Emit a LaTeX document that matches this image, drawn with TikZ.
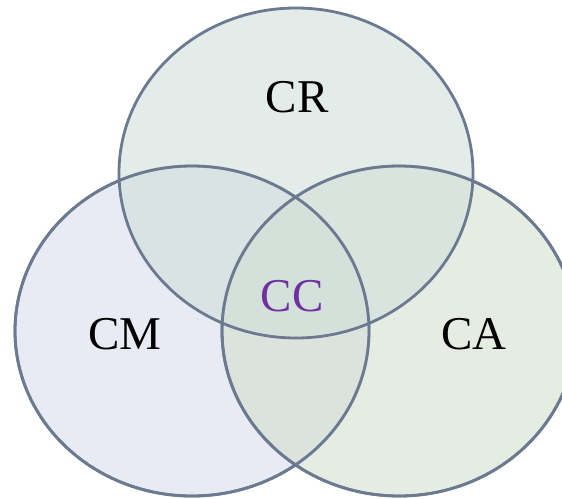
\documentclass[tikz,border=0pt]{standalone}
\usepackage{fontspec}
\setmainfont{Liberation Serif}
\definecolor{edge}{HTML}{6B7A90}
\definecolor{fcr}{RGB}{208,223,218}
\definecolor{fcm}{RGB}{217,222,235}
\definecolor{fca}{RGB}{212,223,207}
\definecolor{ccpurple}{HTML}{7030A0}
\tikzset{
  setshape/.style={draw=edge, line width=2.8pt, fill opacity=0.6},
  setedge/.style={draw=edge, line width=2.8pt},
  setlabel/.style={font=\fontsize{47}{52}\selectfont, text=black},
}
\begin{document}
\begin{tikzpicture}[x=1pt,y=-1pt]
\useasboundingbox (0,0) rectangle (562,498);
\begin{scope}
\clip (0,0) rectangle (562,498);
\filldraw[setshape, fill=fcm] (192,331) ellipse [x radius=177, y radius=165];
\filldraw[setshape, fill=fca] (399,331) ellipse [x radius=177, y radius=165];
\filldraw[setshape, fill=fcr] (296,173) ellipse [x radius=177, y radius=165];
\draw[setedge] (192,331) ellipse [x radius=177, y radius=165];
\draw[setedge] (399,331) ellipse [x radius=177, y radius=165];
\end{scope}
\node[setlabel] (cr) at (297,97) {CR};
\node[setlabel] (cm) at (125,334) {CM};
\node[setlabel] (ca) at (474,334) {CA};
\node[setlabel, text=ccpurple] (cc) at (292,296) {CC};
\end{tikzpicture}
\end{document}
